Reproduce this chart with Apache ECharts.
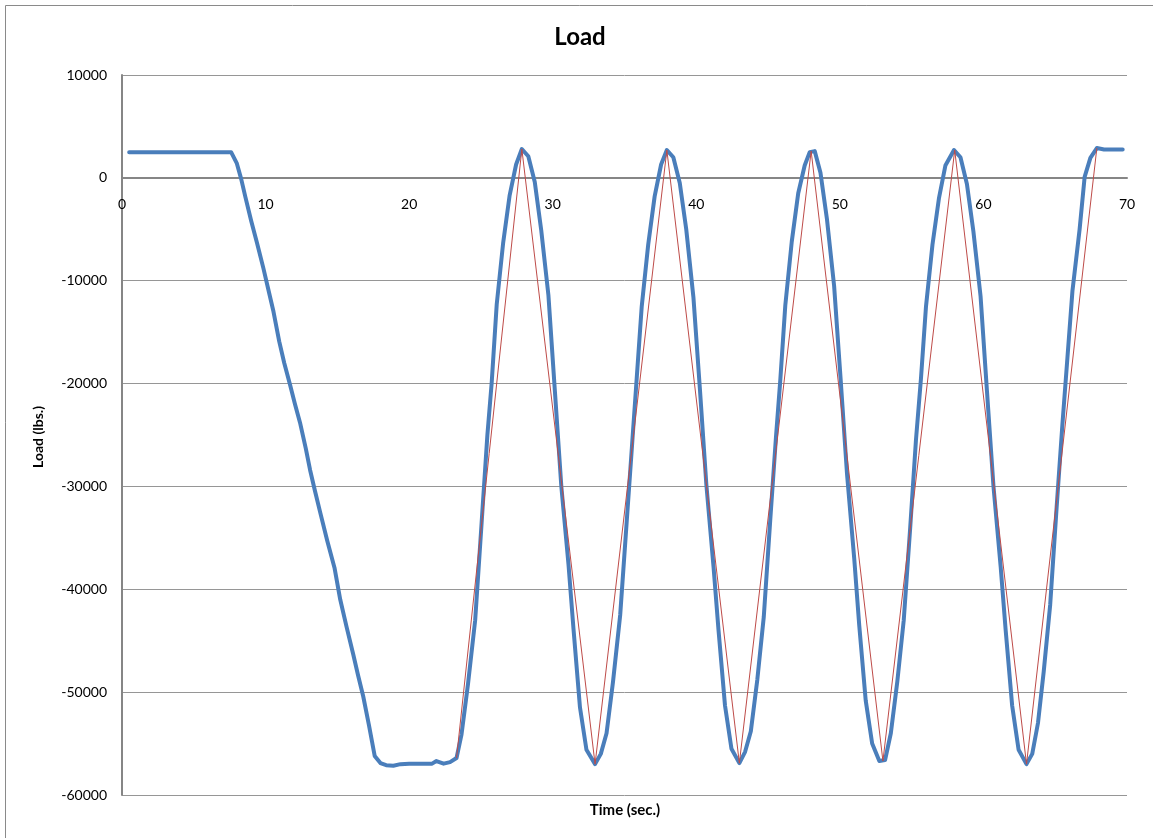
<!DOCTYPE html>
<html>
<head>
<meta charset="utf-8">
<script src="https://cdn.jsdelivr.net/npm/echarts@6/dist/echarts.min.js"></script>
<style>
html,body{margin:0;padding:0;background:#fff;}
#chart{width:1153px;height:838px;}
</style>
</head>
<body>
<div id="chart"></div>
<script>
// Title / axis texts
var chartTitle = 'Load';
var xAxisTitle = 'Time (sec.)';
var yAxisTitle = 'Load (lbs.)';

// Axis ticks
var xTicks = {min: 0, max: 70, interval: 10};
var yTicks = {min: -60000, max: 10000, interval: 10000};

// Measured load (blue): [time (s), load (lbs.)]
var measuredLoad = [
  [0.5, 2500], [2, 2500], [4, 2500], [6, 2500], [7.6, 2500],
  [8.0, 1400], [8.3, -100], [8.6, -1900], [9.0, -4200], [9.4, -6300],
  [9.85, -8800], [10.2, -10900], [10.55, -13000], [10.95, -15900], [11.3, -18000],
  [11.7, -20100], [12.05, -22000], [12.4, -23800], [12.8, -26300], [13.1, -28400],
  [13.45, -30500], [13.8, -32500], [14.3, -35300], [14.8, -37900], [15.2, -41000],
  [15.65, -43700], [16.1, -46300], [16.45, -48400], [16.8, -50400], [17.2, -53200],
  [17.6, -56200], [18.0, -56900], [18.4, -57100], [18.9, -57150], [19.4, -57000],
  [20.0, -56950], [20.6, -56950], [21.2, -56950], [21.6, -56950], [21.9, -56700],
  [22.4, -56950], [22.85, -56800], [23.3, -56400],
  [23.65, -54100], [24.1, -49200], [24.6, -43000], [25.05, -33500], [25.45, -25000],
  [25.75, -19900], [26.1, -12300], [26.55, -6300], [27.0, -1700], [27.45, 1300],
  [27.85, 2800], [28.3, 2100], [28.75, -400], [29.2, -5100], [29.7, -11400],
  [30.15, -20700], [30.6, -30000], [31.1, -37600], [31.45, -43900], [31.9, -51500],
  [32.35, -55600], [32.95, -57000],
  [33.35, -56000], [33.75, -54000], [34.2, -49000], [34.7, -42500], [35.15, -33500],
  [35.55, -25500], [35.85, -19500], [36.2, -12500], [36.65, -6500], [37.1, -1800],
  [37.55, 1300], [37.95, 2700], [38.4, 2000], [38.85, -500], [39.3, -5000],
  [39.8, -11600], [40.25, -20500], [40.7, -29800], [41.2, -37800], [41.55, -44000],
  [42.0, -51300], [42.45, -55500], [43.0, -56900],
  [43.4, -55800], [43.8, -53800], [44.25, -48800], [44.7, -42700], [45.15, -33300],
  [45.55, -25200], [45.85, -19700], [46.2, -12400], [46.65, -6200], [47.1, -1500],
  [47.55, 1200], [47.9, 2500], [48.25, 2600], [48.65, 500], [49.1, -4000],
  [49.6, -10500], [50.05, -19500], [50.5, -28800], [51.0, -37000], [51.35, -43500],
  [51.8, -50800], [52.25, -55000], [52.75, -56700], [53.15, -56600],
  [53.55, -54000], [54.0, -49000], [54.45, -43000], [54.9, -34000], [55.3, -25500],
  [55.65, -19500], [56.0, -12500], [56.45, -6500], [56.9, -2000], [57.35, 1200],
  [57.95, 2700], [58.4, 2000], [58.85, -600], [59.3, -5200], [59.8, -11500],
  [60.25, -20800], [60.7, -30000], [61.2, -37800], [61.55, -44000], [62.0, -51300],
  [62.45, -55600], [63.0, -57000],
  [63.4, -56000], [63.8, -53000], [64.2, -48000], [64.65, -41500], [65.1, -32000],
  [65.5, -24000], [65.85, -17500], [66.2, -11000], [66.7, -5000], [67.05, 100],
  [67.45, 1950], [67.9, 2900], [68.4, 2750], [69.0, 2750], [69.7, 2750]
];

// Command load (red): peaks and troughs, [time (s), load (lbs.)]
var commandLoad = [
  [23.3, -56400], [27.85, 2800], [32.95, -57000], [37.95, 2700], [43.0, -56900],
  [48.0, 2600], [53.0, -56700], [58.0, 2700], [63.0, -57000], [67.9, 2900]
];

var FONT = 'Lato, "Open Sans", "Liberation Sans", sans-serif';
var chart = echarts.init(document.getElementById('chart'), null, {renderer: 'canvas'});
chart.setOption({
  animation: false,
  backgroundColor: '#fff',
  grid: {left: 122, right: 26, top: 75, bottom: 43, containLabel: false},
  graphic: [
    {type: 'rect', shape: {x: 5.5, y: 5.5, width: 1170, height: 860},
     style: {fill: 'none', stroke: '#8a8a8a', lineWidth: 1}, silent: true, z: -10},
    {type: 'text', x: 580, y: 37,
     style: {text: chartTitle, font: 'bold 24px ' + FONT, fill: '#000',
             textAlign: 'center', textVerticalAlign: 'middle'}},
    {type: 'text', x: 625, y: 810,
     style: {text: xAxisTitle, font: 'bold 15px ' + FONT, fill: '#000',
             textAlign: 'center', textVerticalAlign: 'middle'}},
    {type: 'text', x: 38, y: 437, rotation: Math.PI / 2,
     style: {text: yAxisTitle, font: 'bold 14px ' + FONT, fill: '#000',
             textAlign: 'center', textVerticalAlign: 'middle'}}
  ],
  xAxis: {
    type: 'value', min: xTicks.min, max: xTicks.max, interval: xTicks.interval,
    axisLine: {show: true, onZero: true, lineStyle: {color: '#868686', width: 2}},
    axisTick: {show: false},
    splitLine: {show: false},
    axisLabel: {color: '#000', fontSize: 14, fontFamily: FONT, margin: -598}
  },
  yAxis: {
    type: 'value', min: yTicks.min, max: yTicks.max, interval: yTicks.interval,
    axisLine: {show: true, onZero: false, lineStyle: {color: '#868686', width: 2}},
    axisTick: {show: false},
    splitLine: {show: true, lineStyle: {color: '#969696', width: 1}},
    axisLabel: {color: '#000', fontSize: 14, fontFamily: FONT, margin: 15,
                formatter: function (v) { return String(v); }}
  },
  series: [
    {type: 'line', data: measuredLoad, showSymbol: false, smooth: false, z: 2,
     lineStyle: {color: '#4a7ebb', width: 4, cap: 'round', join: 'round'}},
    {type: 'line', data: commandLoad, showSymbol: false, smooth: false, z: 3,
     lineStyle: {color: '#be4b48', width: 1}}
  ]
});
</script>
</body>
</html>
